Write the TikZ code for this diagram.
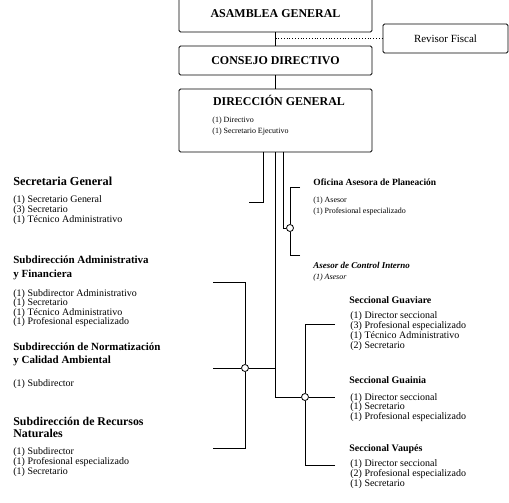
\documentclass[tikz,border=0pt]{standalone}
\usepackage{fontspec}
\setmainfont{Liberation Serif}

\begin{document}
\begin{tikzpicture}[x=1bp,y=-1bp,line width=0.8bp]
% Define styles (multi-line nodes sit on the baseline of their last line)
\tikzset{
  box/.style={draw, rounded corners=1.5bp, minimum width=193bp, inner sep=0pt},
  boxtitle/.style={font=\fontsize{12}{14}\selectfont\bfseries},
  head/.style={anchor=base west, inner sep=0pt, align=left, font=\fontsize{11.5}{13.5}\selectfont\bfseries},
  subhead/.style={anchor=base west, inner sep=0pt, align=left, font=\fontsize{10}{12}\selectfont\bfseries},
  items/.style={anchor=base west, inner sep=0pt, align=left, font=\fontsize{10}{10}\selectfont},
  smallitems/.style={items, font=\fontsize{8}{11}\selectfont},
  joint/.style={circle, draw, fill=white, inner sep=0pt, minimum size=7bp}
}
\useasboundingbox (0,0) rectangle (509,503);

% Define boxes
\node[box, boxtitle, minimum height=36bp] (asamblea) at (275.5,14) {ASAMBLEA GENERAL};
\node[box, boxtitle, minimum height=29bp] (consejo) at (275.5,60.5) {CONSEJO DIRECTIVO};
\node[box, minimum height=63bp] (dg) at (275.5,120.5) {};
\node[boxtitle] (dg_t) at (279,100) {DIRECCIÓN GENERAL};
\node[smallitems] (dg_i) at (212,133.5) {(1) Directivo\\(1) Secretario Ejecutivo};
\node[box, minimum width=125bp, minimum height=29bp, font=\fontsize{11}{13}\selectfont] (revisor) at (445.5,38.5) {Revisor Fiscal};

% Left column
\node[head, font=\fontsize{12.3}{14}\selectfont\bfseries] (sgen_t) at (13,185.5) {Secretaria General};
\node[items] (sgen_i) at (13,222.3) {(1) Secretario General\\(3) Secretario\\(1) Técnico Administrativo};
\node[head, font=\fontsize{11}{14}\selectfont\bfseries] (sadm_t) at (13,277.5) {Subdirección Administrativa\\y Financiera};
\node[items, font=\fontsize{10}{9.5}\selectfont] (sadm_i) at (13,324.8) {(1) Subdirector Administrativo\\(1) Secretario\\(1) Técnico Administrativo\\(1) Profesional especializado};
\node[head, font=\fontsize{11}{13}\selectfont\bfseries] (snor_t) at (13,363.5) {Subdirección de Normatización\\y Calidad Ambiental};
\node[items] (snor_i) at (13,386.3) {(1) Subdirector};
\node[head, font=\fontsize{11.9}{12.5}\selectfont\bfseries] (srec_t) at (13,437.5) {Subdirección de Recursos\\Naturales};
\node[items] (srec_i) at (13,474.3) {(1) Subdirector\\(1) Profesional especializado\\(1) Secretario};

% Advisors
\node[subhead, font=\fontsize{9.5}{11}\selectfont\bfseries] (ofi_t) at (313,186) {Oficina Asesora de Planeación};
\node[smallitems] (ofi_i) at (313,213.5) {(1) Asesor\\(1) Profesional especializado};
\node[subhead, font=\fontsize{9}{11}\selectfont\bfseries\itshape] (aci_t) at (313,268) {Asesor de Control Interno};
\node[smallitems, font=\fontsize{8}{10}\selectfont\itshape] (aci_i) at (313,279.5) {(1) Asesor};

% Seccionales
\node[subhead] (sgua_t) at (349,303.5) {Seccional Guaviare};
\node[items] (sgua_i) at (350,348.3) {(1) Director seccional\\(3) Profesional especializado\\(1) Técnico Administrativo\\(2) Secretario};
\node[subhead] (sgun_t) at (349,383.5) {Seccional Guainia};
\node[items, font=\fontsize{10}{9.5}\selectfont] (sgun_i) at (350,419.3) {(1) Director seccional\\(1) Secretario\\(1) Profesional especializado};
\node[subhead] (svau_t) at (349,451.5) {Seccional Vaupés};
\node[items] (svau_i) at (350,486.3) {(1) Director seccional\\(2) Profesional especializado\\(1) Secretario};

% Joints and line ends
\node[joint] (dot1) at (290,228) {};
\node[joint] (dot2) at (245,368) {};
\node[joint] (dot3) at (305,397) {};
\coordinate (dgA) at (263,152);
\coordinate (dgC) at (283,152);
\coordinate (sgen) at (249,202);
\coordinate (ofi) at (300,187);
\coordinate (aci) at (300,255);
\coordinate (sadm) at (213,282);
\coordinate (snor) at (213,368);
\coordinate (srec) at (213,448);
\coordinate (sgua) at (335,324);
\coordinate (sgun) at (335,397);
\coordinate (svau) at (335,465);

% Connect the nodes
\draw (asamblea.south) -- (consejo.north);
\draw[dotted] (asamblea.south |- revisor.west) -- (revisor.west);
\draw (consejo.south) -- (dg.south |- dg.north);
\draw (dgA) |- (sgen);
\draw (dg.south) |- (dot3);
\draw (dgC) |- (dot1);
\draw (ofi) -| (dot1);
\draw (aci) -| (dot1);
\draw (dg.south |- dot2) -- (dot2);
\draw (snor) -- (dot2);
\draw (sadm) -| (dot2);
\draw (srec) -| (dot2);
\draw (dot3) -- (sgun);
\draw (sgua) -| (dot3);
\draw (svau) -| (dot3);

\end{tikzpicture}
\end{document}
